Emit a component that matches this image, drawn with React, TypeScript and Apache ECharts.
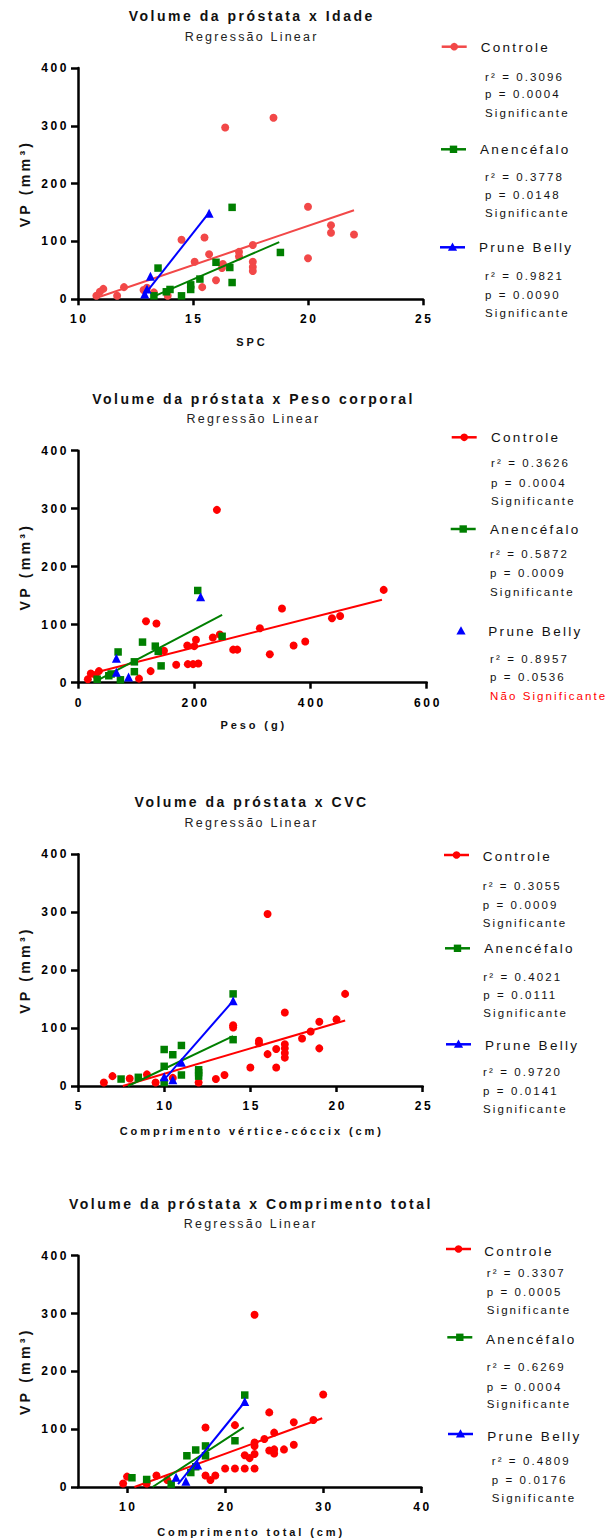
import React, { useEffect, useRef } from "react";
import * as echarts from "echarts";

const FONT = "Liberation Sans";

// ---------- Panel 1: Volume da próstata x Idade (SPC) ----------
const idadeControle = [
  [10.8, 6], [10.95, 13], [11.1, 18], [11.7, 6], [12.0, 21], [12.85, 16], [13.0, 20], [13.3, 12],
  [13.9, 6], [14.5, 103], [15.07, 65], [15.4, 21], [15.5, 107], [15.7, 78], [16.0, 33], [16.26, 54],
  [16.3, 61], [16.4, 297], [17.0, 82], [17.0, 74], [17.6, 94], [17.6, 65], [17.6, 56], [17.6, 49],
  [18.5, 314], [20.0, 160], [20.0, 71], [21.0, 128], [21.0, 115], [22.0, 112],
];
const idadeAnencefalo = [
  [13.3, 6], [13.48, 54], [13.84, 13], [14.0, 17], [14.5, 6], [14.9, 25], [14.9, 17], [15.3, 35],
  [16.0, 64], [16.6, 55], [16.7, 159], [16.7, 29], [18.8, 81],
];
const idadePrune = [[12.9, 9], [13.0, 18], [13.15, 40], [15.7, 149]];
const idadeFitControle = [[10.85, 3], [22, 154]];
const idadeFitAnencefalo = [[13.3, 5], [18.75, 99]];
const idadeFitPrune = [[12.85, 6], [15.7, 150]];
const idadeR2 = ["0.3096", "0.3778", "0.9821"];
const idadeP = ["0.0004", "0.0148", "0.0090"];
const idadeSig = ["Significante", "Significante", "Significante"];

// ---------- Panel 2: Volume da próstata x Peso corporal ----------
const pesoControle = [
  [17, 6], [22, 16], [30, 13], [36, 20], [105, 7], [117, 106], [125, 20], [135, 102], [148, 55],
  [169, 31], [188, 64], [189, 32], [198, 32], [200, 63], [203, 74], [207, 33], [232, 78], [239, 298],
  [244, 83], [267, 57], [274, 57], [313, 94], [330, 49], [351, 128], [371, 64], [391, 71], [437, 111],
  [451, 115], [526, 160],
];
const pesoAnencefalo = [
  [33, 6], [53, 12], [57, 15], [69, 53], [73, 5], [97, 36], [97, 19], [111, 70], [133, 63], [138, 54],
  [143, 29], [206, 159], [248, 80],
];
const pesoPrune = [[66, 42], [66, 18], [87, 10], [211, 148]];
const pesoFitControle = [[20, 15], [523, 143]];
const pesoFitAnencefalo = [[35, 5], [248, 117]];
const pesoR2 = ["0.3626", "0.5872", "0.8957"];
const pesoP = ["0.0004", "0.0009", "0.0536"];
const pesoSig = ["Significante", "Significante", "Não Significante"];

// ---------- Panel 3: Volume da próstata x CVC ----------
const cvcControle = [
  [6.5, 6], [7.0, 17], [8.0, 13], [9.0, 20], [9.5, 6], [10.5, 14], [12.0, 6], [13.0, 12], [13.5, 19],
  [14.0, 105], [14.0, 101], [15.0, 32], [15.5, 78], [15.5, 74], [16.0, 55], [16.0, 297], [16.5, 64],
  [16.5, 32], [17.0, 127], [17.0, 72], [17.0, 65], [17.0, 57], [17.0, 49], [18.0, 82], [18.5, 94],
  [19.0, 111], [19.0, 65], [20.0, 115], [20.5, 159],
];
const cvcAnencefalo = [
  [7.5, 12], [8.5, 15], [10.0, 63], [10.0, 34], [10.0, 6], [10.5, 54], [11.0, 70], [11.0, 19],
  [12.0, 28], [12.0, 23], [12.0, 17], [14.0, 159], [14.0, 80],
];
const cvcPrune = [[10.0, 16], [10.5, 11], [11.0, 41], [14.0, 147]];
const cvcFitControle = [[7.6, 0], [20.5, 113]];
const cvcFitAnencefalo = [[7.9, 0], [14, 86]];
const cvcFitPrune = [[10, 11], [14, 147]];
const cvcR2 = ["0.3055", "0.4021", "0.9720"];
const cvcP = ["0.0009", "0.0111", "0.0141"];
const cvcSig = ["Significante", "Significante", "Significante"];

// ---------- Panel 4: Volume da próstata x Comprimento total ----------
const totalControle = [
  [9.6, 6], [10.0, 18], [12.0, 6], [13.0, 20], [14.1, 12], [18.0, 103], [18.0, 20], [18.5, 12],
  [19.0, 20], [20.0, 32], [21.0, 107], [21.0, 32], [22.0, 32], [22.0, 55], [22.5, 50], [23.0, 77],
  [23.0, 71], [23.0, 57], [23.0, 32], [23.0, 298], [24.0, 83], [24.5, 129], [24.5, 63], [25.0, 94],
  [25.0, 65], [25.0, 58], [26.0, 65], [27.0, 112], [27.0, 73], [29.0, 116], [30.0, 160],
];
const totalAnencefalo = [
  [10.5, 16], [12.0, 13], [14.5, 5], [16.1, 54], [16.5, 25], [17.0, 64], [17.0, 35], [18.0, 71],
  [18.0, 54], [21.0, 80], [22.0, 159],
];
const totalPrune = [[15.0, 17], [16.0, 10], [17.2, 38], [22.0, 148]];
const totalFitControle = [[10.75, 0], [29.9, 119]];
const totalFitAnencefalo = [[12.6, 0], [21.9, 103]];
const totalFitPrune = [[15.2, 5], [22, 147]];
const totalR2 = ["0.3307", "0.6269", "0.4809"];
const totalP = ["0.0005", "0.0004", "0.0176"];
const totalSig = ["Significante", "Significante", "Significante"];

const seriesNames = ["Controle", "Anencéfalo", "Prune Belly"];
const yTicks = { min: 0, max: 400, interval: 100 };

const panels = [
  {
    title: "Volume da próstata x Idade", xName: "SPC",
    xMin: 10, xMax: 25, xInterval: 5, xCustom: null as number[] | null,
    data: [idadeControle, idadeAnencefalo, idadePrune],
    fits: [idadeFitControle, idadeFitAnencefalo, idadeFitPrune],
    r2: idadeR2, p: idadeP, sig: idadeSig, red: "#F24848",
  },
  {
    title: "Volume da próstata x Peso corporal", xName: "Peso (g)",
    xMin: 0, xMax: 600, xInterval: 200, xCustom: null,
    data: [pesoControle, pesoAnencefalo, pesoPrune],
    fits: [pesoFitControle, pesoFitAnencefalo, null],
    r2: pesoR2, p: pesoP, sig: pesoSig, red: "#FF0000",
  },
  {
    title: "Volume da próstata x CVC", xName: "Comprimento vértice-cóccix (cm)",
    xMin: 5, xMax: 25, xInterval: 5, xCustom: null,
    data: [cvcControle, cvcAnencefalo, cvcPrune],
    fits: [cvcFitControle, cvcFitAnencefalo, cvcFitPrune],
    r2: cvcR2, p: cvcP, sig: cvcSig, red: "#FF0000",
  },
  {
    title: "Volume da próstata x Comprimento total", xName: "Comprimento total (cm)",
    xMin: 5, xMax: 40, xInterval: null as number | null, xCustom: [10, 20, 30, 40],
    data: [totalControle, totalAnencefalo, totalPrune],
    fits: [totalFitControle, totalFitAnencefalo, totalFitPrune],
    r2: totalR2, p: totalP, sig: totalSig, red: "#FF0000",
  },
];

// layout (pixels)
const layouts = [
  { left: 78, top: 68, width: 345, height: 231.3, xNameY: 342 },
  { left: 78, top: 450.7, width: 348.7, height: 232, xNameY: 725 },
  { left: 78, top: 854.3, width: 344.7, height: 231.7, xNameY: 1130.7 },
  { left: 78, top: 1255.7, width: 343.3, height: 231.3, xNameY: 1531.7 },
];

type LegendPos = { line: number[] | null; marker: number[]; text: number[]; stats: number[] };
const legendLayouts: LegendPos[][] = [
  [
    { line: [441.7, 466.7, 46.7], marker: [454.2, 46.7], text: [480.7, 47.3], stats: [485, 76.7, 94.3, 113.3] },
    { line: [441, 466, 149.3], marker: [453.5, 149.3], text: [480, 149.3], stats: [485, 176.7, 195, 213.3] },
    { line: [440, 465, 247.3], marker: [452.5, 247.3], text: [479, 247], stats: [485, 276, 295, 312.7] },
  ],
  [
    { line: [451.7, 476.7, 437.3], marker: [464.2, 437.3], text: [491, 437.3], stats: [491, 463.3, 482.7, 501] },
    { line: [450.7, 475.7, 529], marker: [463.2, 529], text: [490, 529], stats: [490, 554.3, 573.3, 591.7] },
    { line: null, marker: [461, 631], text: [488.3, 631.7], stats: [490, 659, 677.3, 696] },
  ],
  [
    { line: [444, 469, 855], marker: [456.5, 855], text: [482.7, 856], stats: [482.7, 886, 905, 923.3] },
    { line: [445, 470, 948.3], marker: [457.5, 948.3], text: [484.3, 948.3], stats: [483.3, 976.7, 995, 1013.3] },
    { line: [446, 471, 1044.3], marker: [458.5, 1044.3], text: [485, 1045], stats: [483, 1071.7, 1090.7, 1109.3] },
  ],
  [
    { line: [446, 471, 1249], marker: [458.5, 1249], text: [484.3, 1251], stats: [486.7, 1273.3, 1292.3, 1310] },
    { line: [447.3, 472.3, 1337.3], marker: [459.8, 1337.3], text: [486, 1339], stats: [486.7, 1366.7, 1386.7, 1404.3] },
    { line: [448, 473, 1434], marker: [460.5, 1434], text: [487.3, 1436], stats: [491.7, 1461, 1480, 1498.3] },
  ],
];

const GREEN = "#007F00";
const BLUE = "#0000FF";
const symbols = ["circle", "rect", "triangle"];
const symbolSizes = [8, 7.5, 9];

function txt(text: string, x: number, y: number, size: number, weight: string, fill: string, align = "left", rotation = 0) {
  return {
    type: "text",
    x, y, rotation, silent: true,
    style: {
      text, x: 0, y: 0, fill,
      fontSize: size, fontWeight: weight, fontFamily: FONT,
      textAlign: align, textVerticalAlign: "middle",
      align, verticalAlign: "middle",
    },
  };
}

function markerEl(kind: number, cx: number, cy: number, color: string) {
  if (kind === 0) return { type: "circle", silent: true, shape: { cx, cy, r: 3.8 }, style: { fill: color } };
  if (kind === 1) return { type: "rect", silent: true, shape: { x: cx - 3.7, y: cy - 3.7, width: 7.4, height: 7.4 }, style: { fill: color } };
  return { type: "polygon", silent: true, shape: { points: [[cx, cy - 4.8], [cx - 4.6, cy + 3.4], [cx + 4.6, cy + 3.4]] }, style: { fill: color } };
}

function buildOption() {
  const grid: any[] = [];
  const xAxis: any[] = [];
  const yAxis: any[] = [];
  const series: any[] = [];
  const graphic: any[] = [];
  const axisLineStyle = { color: "#000", width: 2.5 };
  const labelStyle = { color: "#000", fontSize: 12, fontWeight: "bold", fontFamily: FONT };

  panels.forEach((p, i) => {
    const L = layouts[i];
    const colors = [p.red, GREEN, BLUE];
    grid.push({ left: L.left, top: L.top, width: L.width, height: L.height, containLabel: false });
    const xa: any = {
      type: "value", gridIndex: i, min: p.xMin, max: p.xMax,
      axisLine: { show: true, onZero: false, lineStyle: axisLineStyle },
      axisTick: { show: true, length: 6, lineStyle: axisLineStyle },
      axisLabel: { ...labelStyle, margin: 14, padding: [0, 0, 0, 2.6] },
      splitLine: { show: false },
    };
    if (p.xInterval) xa.interval = p.xInterval;
    if (p.xCustom) {
      xa.axisLabel.customValues = p.xCustom;
      xa.axisTick.customValues = p.xCustom;
    }
    xAxis.push(xa);
    yAxis.push({
      type: "value", gridIndex: i, ...yTicks,
      axisLine: { show: true, onZero: false, lineStyle: axisLineStyle },
      axisTick: { show: true, length: 7, lineStyle: axisLineStyle },
      axisLabel: { ...labelStyle, margin: 9 },
      splitLine: { show: false },
    });

    for (let k = 0; k < 3; k++) {
      series.push({
        type: "scatter", name: seriesNames[k], xAxisIndex: i, yAxisIndex: i,
        data: p.data[k], symbol: symbols[k], symbolSize: symbolSizes[k],
        itemStyle: { color: colors[k], opacity: 1 }, silent: true, z: 2 + k * 2,
      });
      const fit = p.fits[k];
      if (fit) {
        series.push({
          type: "line", name: seriesNames[k] + " fit", xAxisIndex: i, yAxisIndex: i,
          data: fit, symbol: "none", lineStyle: { color: colors[k], width: 2 },
          silent: true, z: 3 + k * 2,
        });
      }
    }

    const cx = L.left + L.width / 2;
    graphic.push(txt(p.title, cx + 1.25, L.top - 52.2, 14, "bold", "#111", "center"));
    graphic.push(txt("Regressão Linear", cx + 1.1, L.top - 31.3, 12.5, "normal", "#222", "center"));
    graphic.push(txt(p.xName, cx + 1.45, L.xNameY, 11, "bold", "#111", "center"));
    graphic.push(txt("VP (mm³)", 24.5, L.top + L.height / 2 + 1.5 - 1.6, 14.2, "bold", "#111", "center", Math.PI / 2));

    legendLayouts[i].forEach((lp, k) => {
      if (lp.line) {
        graphic.push({ type: "line", silent: true, shape: { x1: lp.line[0], y1: lp.line[2], x2: lp.line[1], y2: lp.line[2] }, style: { stroke: colors[k], lineWidth: 2.5 } });
      }
      graphic.push(markerEl(k, lp.marker[0], lp.marker[1], colors[k]));
      graphic.push(txt(seriesNames[k], lp.text[0], lp.text[1], 13.5, "normal", "#111"));
      graphic.push(txt("r² = " + p.r2[k], lp.stats[0], lp.stats[1], 11.5, "normal", "#111"));
      graphic.push(txt("p = " + p.p[k], lp.stats[0], lp.stats[2], 11.5, "normal", "#111"));
      const notSig = p.sig[k].startsWith("Não");
      graphic.push(txt(p.sig[k], lp.stats[0], lp.stats[3], 11.5, "normal", notSig ? "#FF0000" : "#111"));
    });
  });

  return {
    animation: false,
    backgroundColor: "#ffffff",
    grid, xAxis, yAxis, series, graphic,
  };
}

const css = `
.vpc text[style*="14px"] { letter-spacing: 2.5px; }
.vpc text[style*="14.2px"] { letter-spacing: 3.2px; }
.vpc text[style*="13.5px"] { letter-spacing: 2.3px; }
.vpc text[style*="12.5px"] { letter-spacing: 2.2px; }
.vpc text[style*="12px"] { letter-spacing: 2.6px; }
.vpc text[style*="11.5px"] { letter-spacing: 2.1px; }
.vpc text[style*="11px"] { letter-spacing: 2.9px; }
`;

export default function App() {
  const ref = useRef<HTMLDivElement>(null);
  useEffect(() => {
    if (!ref.current) return;
    const chart = echarts.init(ref.current, null, { renderer: "svg" });
    chart.setOption(buildOption() as any);
    return () => chart.dispose();
  }, []);
  return (
    <>
      <style>{css}</style>
      <div
        ref={ref}
        className="vpc"
        style={{ position: "absolute", left: 0, top: 0, width: 608, height: 1540, background: "#fff" }}
      />
    </>
  );
}
